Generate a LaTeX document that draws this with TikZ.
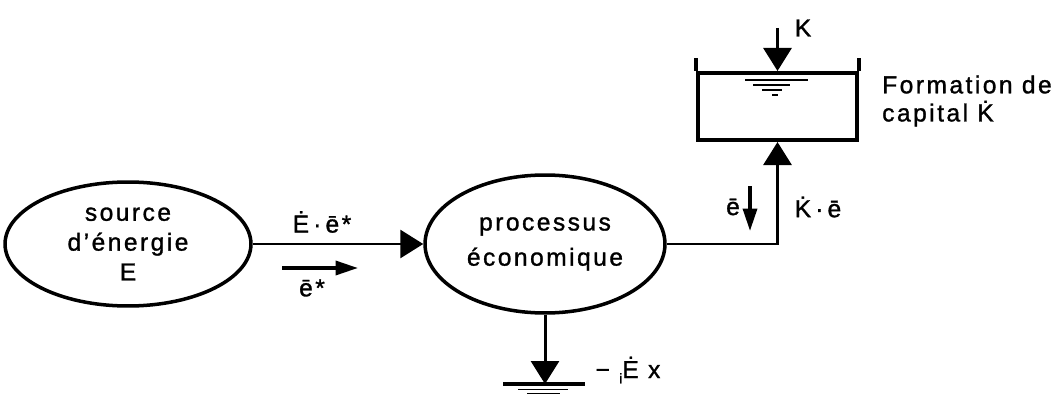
\documentclass[tikz,border=0pt]{standalone}
\usepackage{fontspec}
\setmainfont[LetterSpace=10,FakeBold=1.2]{Liberation Sans}
\usetikzlibrary{arrows.meta,shapes.geometric}

\begin{document}
\begin{tikzpicture}[x=0.02cm, y=-0.02cm, >={Triangle[length=4.6mm,width=5.6mm]},
  font=\fontsize{14}{17}\selectfont,
  blob/.style={ellipse, draw, line width=2pt, align=center, inner sep=0pt},
  tankbox/.style={rectangle, draw, line width=2.3pt, inner sep=0pt, minimum width=3.18cm, minimum height=1.34cm},
  edge/.style={->, line width=1.7pt},
  flow/.style={-{Triangle[length=4.5mm,width=2.8mm]}, line width=2pt},
  lbl/.style={inner sep=0pt}
]
\useasboundingbox (0,0) rectangle (1064,395);
% blocks
\node[blob, minimum width=4.92cm, minimum height=2.48cm] (src) at (128,244) {source\\d'énergie\\E};
\node[blob, minimum width=4.8cm, minimum height=2.76cm, font=\fontsize{14}{20}\selectfont] (proc) at (545,244) {processus\\économique};
\node[tankbox] (tank) at (777.5,106.5) {};
\draw[line width=2.3pt] (tank.north west) -- ++(0,-13);
\draw[line width=2.3pt] (tank.north east) -- ++(0,-13);
\draw[line width=0.9pt] (745,80) -- (808,80) (753,85) -- (790,85) (762,90) -- (782,90) (772,95) -- (778,95);
\node[anchor=west, align=left, font=\fontsize{14}{16}\selectfont] (formtxt) at (876,101) {Formation de\\capital K̇};
% connectors
\coordinate (kin) at (777.5,28);
\coordinate (gnd) at (545,384);
\draw[edge] (src) -- (proc);
\draw[edge] (proc.east) -| (tank.south);
\draw[edge] (kin) -- (tank.north);
\draw[edge] (proc.south) -- (gnd);
% ground
\draw[line width=2.3pt] ([xshift=-0.84cm]gnd) -- ([xshift=0.8cm]gnd);
\draw[line width=1.1pt] ([xshift=-0.54cm,yshift=-0.11cm]gnd) -- ([xshift=0.46cm,yshift=-0.11cm]gnd);
\draw[line width=0.9pt] ([xshift=-0.36cm,yshift=-0.19cm]gnd) -- ([xshift=0.3cm,yshift=-0.19cm]gnd);
% direction arrows
\coordinate (ea) at (282,268);
\coordinate (eb) at (358,268);
\draw[flow] (ea) -- (eb);
\coordinate (da) at (750,186);
\coordinate (db) at (750,231);
\draw[flow] (da) -- (db);
% labels
\node[lbl] (lE) at (322,222) {Ė\,·\,ē*};
\node[lbl] (le) at (312,288) {ē*};
\node[lbl] (lk) at (803,28) {K};
\node[lbl] (lebar) at (733,207) {ē};
\node[lbl] (lKe) at (818,207) {K̇\,·\,ē};
\node[lbl] (lx) at (628,370) {− \raisebox{-0.4ex}{\footnotesize i}Ė x};
\end{tikzpicture}
\end{document}
